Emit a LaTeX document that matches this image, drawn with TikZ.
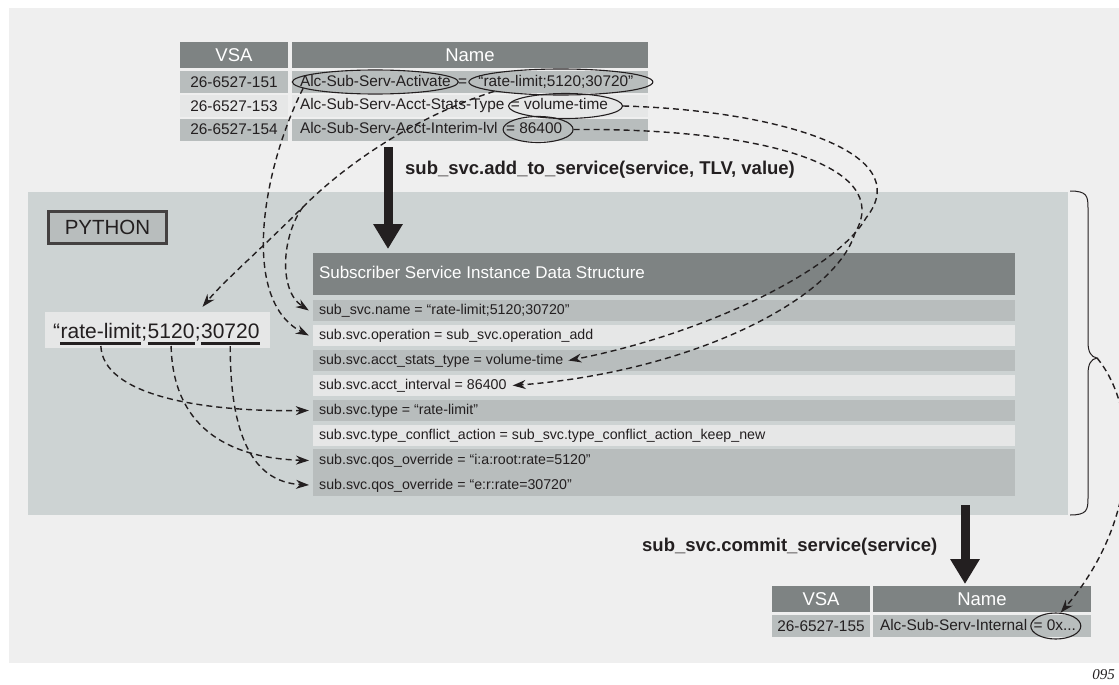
\documentclass[tikz,border=0pt]{standalone}
\usepackage{fontspec}
\setmainfont{Liberation Sans}
\newfontfamily\idfont{Liberation Serif}
\usetikzlibrary{positioning, calc, arrows.meta, shapes.geometric}

\begin{document}
\begin{tikzpicture}[
  x=1pt, y=-1pt,
  font=\fontsize{15.4}{18}\selectfont,
  every node/.style={text=cink},
  cell/.style={inner sep=0pt, minimum height=22pt},
  hcell/.style={cell, fill=chead, minimum height=26pt, text=white,
                font=\fontsize{18.5}{21}\selectfont},
  txt/.style={inner sep=0pt, text height=11pt, text depth=3pt, anchor=west},
  structtxt/.style={txt, font=\fontsize{14.2}{17}\selectfont},
  pytxt/.style={inner sep=0pt, anchor=base west, font=\fontsize{21}{24}\selectfont},
  oval/.style={ellipse, draw=cink, line width=1.1pt, inner sep=0pt},
  uline/.style={cink, line width=3pt},
  link/.style={cink, line width=1.4pt, dash pattern=on 6pt off 4pt,
               -{Stealth[length=13pt, width=9pt]}},
  bigarrow/.style={cink, line width=9pt, -{Triangle[length=25pt, width=28pt]}},
  calltxt/.style={anchor=west, inner sep=0pt, font=\fontsize{18.5}{21}\selectfont\bfseries},
]
\definecolor{cbg}{HTML}{EFEFEF}     % page panel
\definecolor{cpy}{HTML}{CDD3D3}     % python area
\definecolor{chead}{HTML}{7E8383}   % dark header
\definecolor{cmid}{HTML}{B8BDBD}    % medium row
\definecolor{clight}{HTML}{E6E7E7}  % light row
\definecolor{cink}{HTML}{231F20}    % lines and text

\useasboundingbox (0,0) rectangle (1119,685);
\fill[cbg] (9,8) rectangle (1119,663);
\fill[cpy] (28,192) rectangle (1068,515);

% =====================================================================
% VSA table (input) -- on top
% =====================================================================
\node[hcell, minimum width=108pt] (th1) at (234,55) {VSA};
\node[hcell, minimum width=356pt] (th2) at (470,55) {Name};
\foreach \y/\col/\v [count=\i] in {82/cmid/151, 106/clight/153, 129.5/cmid/154} {
  \node[cell, fill=\col, minimum width=108pt] (tv\i) at (234,\y) {26-6527-\v};
  \node[cell, fill=\col, minimum width=356pt] (tn\i) at (470,\y) {};
}

% attribute names and values
\node[txt] (k1) at ([xshift=8pt]tn1.west) {Alc-Sub-Serv-Activate};
\node[txt] (q1) at ([xshift=7pt]k1.east) {=};
\node[txt] (v1) at ([xshift=11pt]q1.east) {“rate-limit;5120;30720”};
\node[txt] (k2) at ([xshift=8pt]tn2.west) {Alc-Sub-Serv-Acct-Stats-Type};
\node[txt] (v2) at ([xshift=6pt]k2.east) {= volume-time};
\node[txt] (k3) at ([xshift=8pt]tn3.west) {Alc-Sub-Serv-Acct-Interim-lvl};
\node[txt] (v3) at ([xshift=8pt]k3.east) {= 86400};

% rings round the parts that are read
\node[oval, minimum width=166pt, minimum height=24pt] (e1) at (k1.center) {};
\node[oval, minimum width=184pt, minimum height=26pt] (e2) at ([xshift=5pt]v1.center) {};
\node[oval, minimum width=114pt, minimum height=25pt] (e3) at ([xshift=6pt]v2.center) {};
\node[oval, minimum width=70pt, minimum height=26pt] (e4) at ([xshift=4pt]v3.center) {};

% add_to_service call
\coordinate (add0) at (388,147);
\coordinate (add1) at (388,249);
\draw[bigarrow] (add0) -- (add1);
\node[calltxt] (addlbl) at (405,170) {sub\_svc.add\_to\_service(service, TLV, value)};

% =====================================================================
% Python area
% =====================================================================
\node[cell, fill=cmid, draw=cink!85, line width=3pt, minimum width=118pt,
      minimum height=32pt, font=\fontsize{20.5}{24}\selectfont] (pylabel) at (107.5,227.5) {PYTHON};

% -------- split string --------
\node[cell, fill=clight, minimum width=225pt, minimum height=36pt] (pbox) at (157.5,330) {};
\node[pytxt] (pq) at (53,338) {“};
\node[pytxt] (prl) at (pq.base east) {rate-limit};
\node[pytxt] (ps1) at (prl.base east) {;};
\node[pytxt] (p5120) at (ps1.base east) {5120};
\node[pytxt] (ps2) at (p5120.base east) {;};
\node[pytxt] (p30720) at (ps2.base east) {30720};
\foreach \p in {prl,p5120,p30720} {
  \draw[uline] ([yshift=-5.5pt]\p.base west) -- ([yshift=-5.5pt]\p.base east);
}

% -------- data structure --------
\node[cell, fill=chead, minimum width=702pt, minimum height=42pt] (shead) at (664,274) {};
\node[txt, text=white, font=\fontsize{17}{20}\selectfont] (stitle) at ([xshift=6pt]shead.west)
  {Subscriber Service Instance Data Structure};
\foreach \y/\col/\t [count=\i] in {
    310.5/cmid/{sub\_svc.name = “rate-limit;5120;30720”},
    335.5/clight/{sub.svc.operation = sub\_svc.operation\_add},
    360.5/cmid/{sub.svc.acct\_stats\_type = volume-time},
    385.5/clight/{sub.svc.acct\_interval = 86400},
    410.5/cmid/{sub.svc.type = “rate-limit”},
    435.5/clight/{sub.svc.type\_conflict\_action = sub\_svc.type\_conflict\_action\_keep\_new}} {
  \node[cell, fill=\col, minimum width=702pt, minimum height=21pt] (srow\i) at (664,\y) {};
  \node[structtxt] (stxt\i) at ([xshift=6pt]srow\i.west) {\t};
}
\node[cell, fill=cmid, minimum width=702pt, minimum height=47pt] (sqos) at (664,472.5) {};
\node[structtxt] (stxt7) at (319,460.5) {sub.svc.qos\_override = “i:a:root:rate=5120”};
\node[structtxt] (stxt8) at (319,485) {sub.svc.qos\_override = “e:r:rate=30720”};

% brace round the python area
\coordinate (btip) at (1097,358);
\draw[cink, line width=1pt] (1070,191) .. controls (1087,191) and (1088,196) .. (1088,208)
  -- (1088,342) .. controls (1088,352) and (1091,357) .. (btip)
  .. controls (1091,359) and (1088,364) .. (1088,374)
  -- (1088,498) .. controls (1088,510) and (1087,515) .. (1070,515);

% =====================================================================
% VSA table (output) -- bottom right
% =====================================================================
\coordinate (com0) at (965,505);
\coordinate (com1) at (965,584);
\draw[bigarrow] (com0) -- (com1);
\node[calltxt] (comlbl) at (642,547) {sub\_svc.commit\_service(service)};

\node[hcell, minimum width=98pt] (bh1) at (821,599) {VSA};
\node[hcell, minimum width=218pt] (bh2) at (982,599) {Name};
\node[cell, fill=cmid, minimum width=98pt] (bv1) at (821,626) {26-6527-155};
\node[cell, fill=cmid, minimum width=218pt] (bn1) at (982,626) {};
\node[txt] (bk1) at ([xshift=7pt]bn1.west) {Alc-Sub-Serv-Internal};
\node[txt] (bx1) at ([xshift=6pt]bk1.east) {= 0x...};
\node[oval, minimum width=50pt, minimum height=26pt] (e5) at ([xshift=1pt]bx1.center) {};

% =====================================================================
% dashed links
% =====================================================================
\coordinate (fork) at (303,207);
\draw[link] (e1.185) .. controls (262,170) and (240,300) .. ([xshift=-4pt]srow2.west);
\draw[link] (e2.188) .. controls (420,115) and (350,160) .. (fork)
  .. controls (260,250) and (225,280) .. ([shift={(45pt,5pt)}]pbox.north);
\draw[link] (fork) .. controls (282,235) and (278,290) .. ([xshift=-4pt]srow1.west);
\draw[link] (e3.east) .. controls (770,110) and (920,150) .. (866,218)
  .. controls (835,272) and (700,335) .. ([xshift=5pt]stxt3.east);
\draw[link] (e4.east) .. controls (760,128) and (895,165) .. (855,233)
  .. controls (835,300) and (690,372) .. ([xshift=6pt]stxt4.east);
\draw[link] ([yshift=-8pt]prl.base) .. controls (103,395) and (200,412) .. ([xshift=-4pt]srow5.west);
\draw[link] ([yshift=-8pt]p5120.base) .. controls (173,425) and (225,458) .. ([xshift=-10pt]stxt7.west);
\draw[link] ([yshift=-8pt]p30720.base) .. controls (230,430) and (250,482) .. ([xshift=-10pt]stxt8.west);
\draw[link] (btip) .. controls (1140,410) and (1140,520) .. (e5.70);

\node[anchor=east, inner sep=0pt, font=\idfont\itshape\fontsize{15}{17}\selectfont] (figid) at (1115,675) {095};
\end{tikzpicture}
\end{document}
